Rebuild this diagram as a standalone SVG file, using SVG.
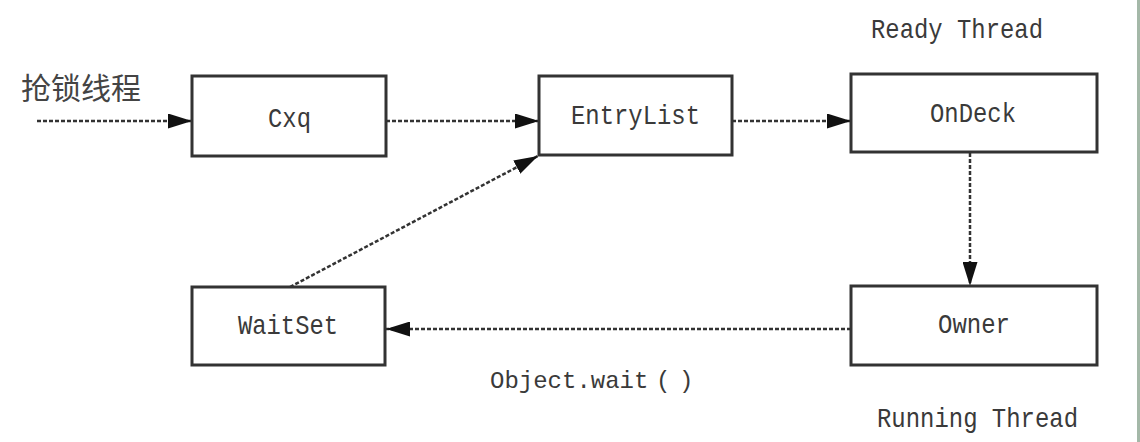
<svg xmlns="http://www.w3.org/2000/svg" width="1140" height="442" viewBox="0 0 1140 442">
<style>
.box{fill:#fff;stroke:#333;stroke-width:3}
.t{font-family:"Liberation Mono","Noto Sans CJK SC",monospace;font-size:28px;fill:#3a3a3a}
.cjk{font-family:"Noto Sans CJK SC",sans-serif;font-size:30px;fill:#444}
.c{fill:none;stroke:#333;stroke-width:2.5;stroke-dasharray:4 2}
</style>
<defs>
<marker id="ah" viewBox="0 0 24 15" refX="24" refY="7.5" markerWidth="24" markerHeight="15" markerUnits="userSpaceOnUse" orient="auto">
<path d="M0,0 L24,7.5 L0,15 Z" fill="#111"/>
</marker>
</defs>
<rect width="1140" height="442" fill="#fff"/>
<rect x="1137" y="0" width="3" height="442" fill="#a4b8a8"/>
<text class="cjk" x="21" y="99">抢锁线程</text>
<text class="t" x="871" y="38" textLength="172" lengthAdjust="spacingAndGlyphs">Ready Thread</text>
<text class="t" x="877" y="427" textLength="201" lengthAdjust="spacingAndGlyphs">Running Thread</text>
<text class="t" y="388" style="font-size:24px"><tspan x="490">Object.wait</tspan><tspan x="656">(</tspan><tspan x="679">)</tspan></text>
<g id="connectors">
<line class="c" x1="37" y1="121" x2="192" y2="121" marker-end="url(#ah)"/>
<line class="c" x1="386" y1="121" x2="539" y2="121" marker-end="url(#ah)"/>
<line class="c" x1="732" y1="121" x2="851" y2="121" marker-end="url(#ah)"/>
<line class="c" x1="970" y1="153" x2="970" y2="286" marker-end="url(#ah)"/>
<line class="c" x1="851" y1="329" x2="386" y2="329" marker-end="url(#ah)"/>
<line class="c" x1="290" y1="287" x2="538" y2="156" marker-end="url(#ah)"/>
</g>
<g id="cxq"><rect class="box" x="192" y="76" width="194" height="80"/><text class="t" x="268" y="127" textLength="43" lengthAdjust="spacingAndGlyphs">Cxq</text></g>
<g id="entrylist"><rect class="box" x="539" y="76" width="193" height="79"/><text class="t" x="571" y="124" textLength="129" lengthAdjust="spacingAndGlyphs">EntryList</text></g>
<g id="ondeck"><rect class="box" x="851" y="74" width="246" height="78"/><text class="t" x="930" y="122" textLength="86" lengthAdjust="spacingAndGlyphs">OnDeck</text></g>
<g id="owner"><rect class="box" x="851" y="286" width="246" height="79"/><text class="t" x="938" y="333" textLength="72" lengthAdjust="spacingAndGlyphs">Owner</text></g>
<g id="waitset"><rect class="box" x="192" y="287" width="193" height="78"/><text class="t" x="238" y="334" textLength="100" lengthAdjust="spacingAndGlyphs">WaitSet</text></g>
</svg>
